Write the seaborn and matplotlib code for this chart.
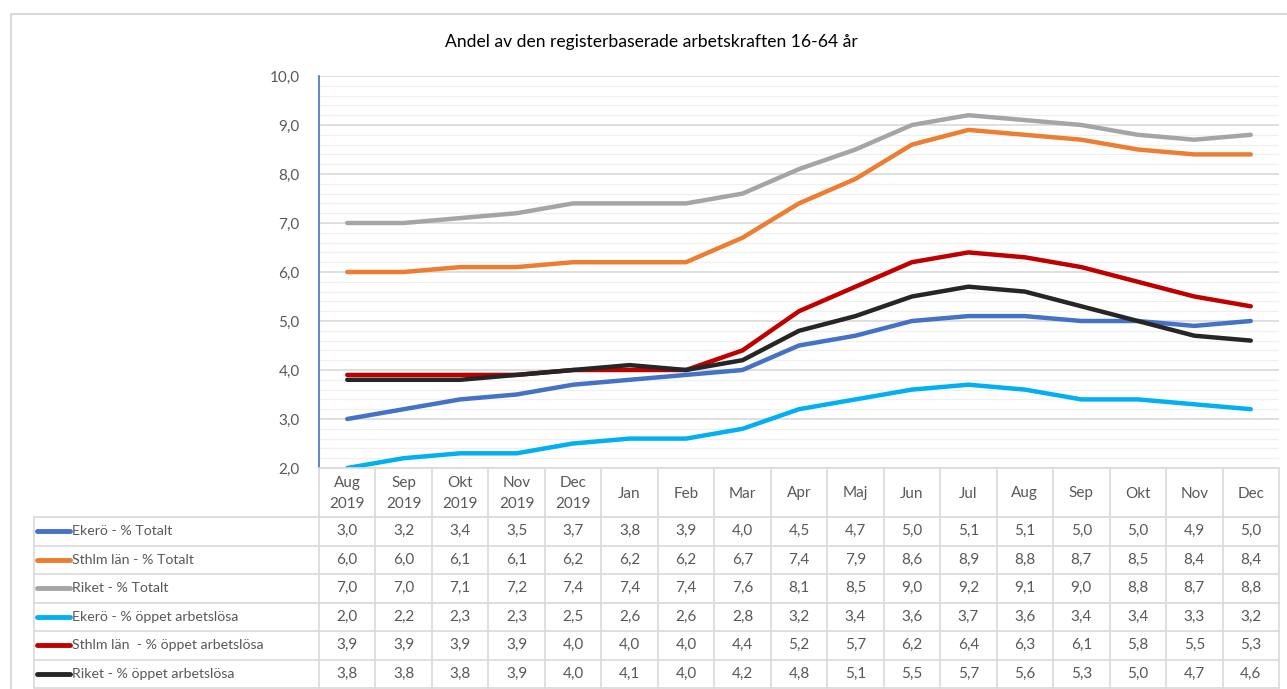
import numpy as np
import pandas as pd
import matplotlib
matplotlib.use("Agg")
import matplotlib.pyplot as plt
from matplotlib.ticker import MultipleLocator, FuncFormatter
import seaborn as sns

# Months (two-line labels for 2019, month names only for 2020)
months = ["Aug\n2019", "Sep\n2019", "Okt\n2019", "Nov\n2019", "Dec\n2019",
          "Jan", "Feb", "Mar", "Apr", "Maj", "Jun", "Jul", "Aug", "Sep",
          "Okt", "Nov", "Dec"]

ekero_totalt = [3.0, 3.2, 3.4, 3.5, 3.7, 3.8, 3.9, 4.0, 4.5, 4.7, 5.0, 5.1, 5.1, 5.0, 5.0, 4.9, 5.0]
sthlm_totalt = [6.0, 6.0, 6.1, 6.1, 6.2, 6.2, 6.2, 6.7, 7.4, 7.9, 8.6, 8.9, 8.8, 8.7, 8.5, 8.4, 8.4]
riket_totalt = [7.0, 7.0, 7.1, 7.2, 7.4, 7.4, 7.4, 7.6, 8.1, 8.5, 9.0, 9.2, 9.1, 9.0, 8.8, 8.7, 8.8]
ekero_oppet = [2.0, 2.2, 2.3, 2.3, 2.5, 2.6, 2.6, 2.8, 3.2, 3.4, 3.6, 3.7, 3.6, 3.4, 3.4, 3.3, 3.2]
sthlm_oppet = [3.9, 3.9, 3.9, 3.9, 4.0, 4.0, 4.0, 4.4, 5.2, 5.7, 6.2, 6.4, 6.3, 6.1, 5.8, 5.5, 5.3]
riket_oppet = [3.8, 3.8, 3.8, 3.9, 4.0, 4.1, 4.0, 4.2, 4.8, 5.1, 5.5, 5.7, 5.6, 5.3, 5.0, 4.7, 4.6]

series_names = ["Ekerö - % Totalt", "Sthlm län - % Totalt", "Riket - % Totalt",
                "Ekerö - % öppet arbetslösa", "Sthlm län  - % öppet arbetslösa",
                "Riket - % öppet arbetslösa"]
series_values = [ekero_totalt, sthlm_totalt, riket_totalt,
                 ekero_oppet, sthlm_oppet, riket_oppet]
series_colors = ["#4472C4", "#ED7D31", "#A5A5A5", "#00B0F0", "#C00000", "#262626"]

title = "Andel av den registerbaserade arbetskraften 16-64 år"

sns.set_theme(style="white")
plt.rcParams["font.family"] = ["Lato", "DejaVu Sans"]

TXT = "#595959"
GRID = "#D9D9D9"

# long-form frame for seaborn
df = pd.DataFrame({
    "pos": np.tile(np.arange(len(months)), len(series_names)),
    "serie": np.repeat(series_names, len(months)),
    "value": np.concatenate(series_values),
})

W, H = 1287, 689
fig = plt.figure(figsize=(W / 100, H / 100), dpi=100)

def px_box(x0, y0, x1, y1):
    return [x0 / W, 1 - y1 / H, (x1 - x0) / W, (y1 - y0) / H]

# outer chart frame (left and top edges)
frame = fig.add_axes([0, 0, 1, 1], zorder=-5)
frame.set_xlim(0, W)
frame.set_ylim(H, 0)
frame.axis("off")
frame.plot([10.5, 10.5, W], [H, 13.5, 13.5], color=GRID, lw=1.5)

# plot area
L, R, T, B = 319, 1279, 76, 468
ax = fig.add_axes(px_box(L, T, R, B))
n = len(months)
ax.set_xlim(-0.5, n - 0.5)
ax.set_ylim(2, 10)

sns.lineplot(data=df, x="pos", y="value", hue="serie", hue_order=series_names,
             palette=series_colors, lw=3.2, legend=False, sort=False, ax=ax,
             solid_capstyle="round", solid_joinstyle="round")

ax.yaxis.set_major_locator(MultipleLocator(1))
ax.yaxis.set_minor_locator(MultipleLocator(0.2))
ax.yaxis.set_major_formatter(FuncFormatter(lambda v, p: f"{v:.1f}".replace(".", ",")))
ax.grid(which="major", axis="y", color=GRID, lw=1.2)
ax.grid(which="minor", axis="y", color="#F0F0F0", lw=1.0)
ax.grid(axis="x", visible=False)
ax.set_axisbelow(True)
ax.tick_params(axis="y", which="both", direction="in", length=4, width=1,
               color="#4472C4", labelcolor=TXT, labelsize=11, pad=14)
ax.tick_params(axis="x", bottom=False, labelbottom=False)
ax.set_xlabel("")
ax.set_ylabel("")
for side in ["top", "right", "bottom"]:
    ax.spines[side].set_visible(False)
ax.spines["left"].set_color("#4472C4")
ax.spines["left"].set_linewidth(1.2)

fig.text(651 / W, 1 - 42 / H, title, ha="center", va="center",
         fontsize=12.6, color="#000000")

# data table below the plot area, columns aligned with the category axis
colw = (R - L) / n
TL = 34
tab_top, hdr_bottom, tab_bottom = 468, 517, 688
tab = fig.add_axes(px_box(TL, tab_top, R, H), zorder=2)
x_left = -0.5 - (L - TL) / colw
tab.set_xlim(x_left, n - 0.5)
tab.set_ylim(H - tab_top, 0)
tab.axis("off")

row_h = (tab_bottom - hdr_bottom) / len(series_names)
y_hdr = hdr_bottom - tab_top
y_end = tab_bottom - tab_top

# grid lines of the table
tab.plot([-0.5, n - 0.5], [0, 0], color=GRID, lw=1.2, clip_on=False)
for k in range(len(series_names) + 1):
    yy = y_hdr + k * row_h
    tab.plot([x_left, n - 0.5], [yy, yy], color=GRID, lw=1.2, clip_on=False)
for i in range(n + 1):
    xx = i - 0.5
    tab.plot([xx, xx], [0, y_end], color=GRID, lw=1.2, clip_on=False)
tab.plot([x_left, x_left], [y_hdr, y_end], color=GRID, lw=1.2, clip_on=False)

# header labels
for i, m in enumerate(months):
    tab.text(i, y_hdr / 2 + 1, m, ha="center", va="center", fontsize=11,
             color=TXT, linespacing=1.55)

# rows: legend key, series name, values
px_per_unit = colw
for k, (name, vals, col) in enumerate(zip(series_names, series_values, series_colors)):
    yc = y_hdr + (k + 0.5) * row_h
    k0 = x_left + 3 / px_per_unit
    k1 = x_left + 36 / px_per_unit
    tab.plot([k0, k1], [yc, yc], color=col, lw=3.5, solid_capstyle="round",
             clip_on=False)
    tab.text(x_left + 38 / px_per_unit, yc, name, ha="left", va="center",
             fontsize=10.2, color=TXT)
    for i, v in enumerate(vals):
        tab.text(i, yc, f"{v:.1f}".replace(".", ","), ha="center", va="center",
                 fontsize=11, color=TXT)

fig.savefig("out.png", dpi=100, facecolor="white")
